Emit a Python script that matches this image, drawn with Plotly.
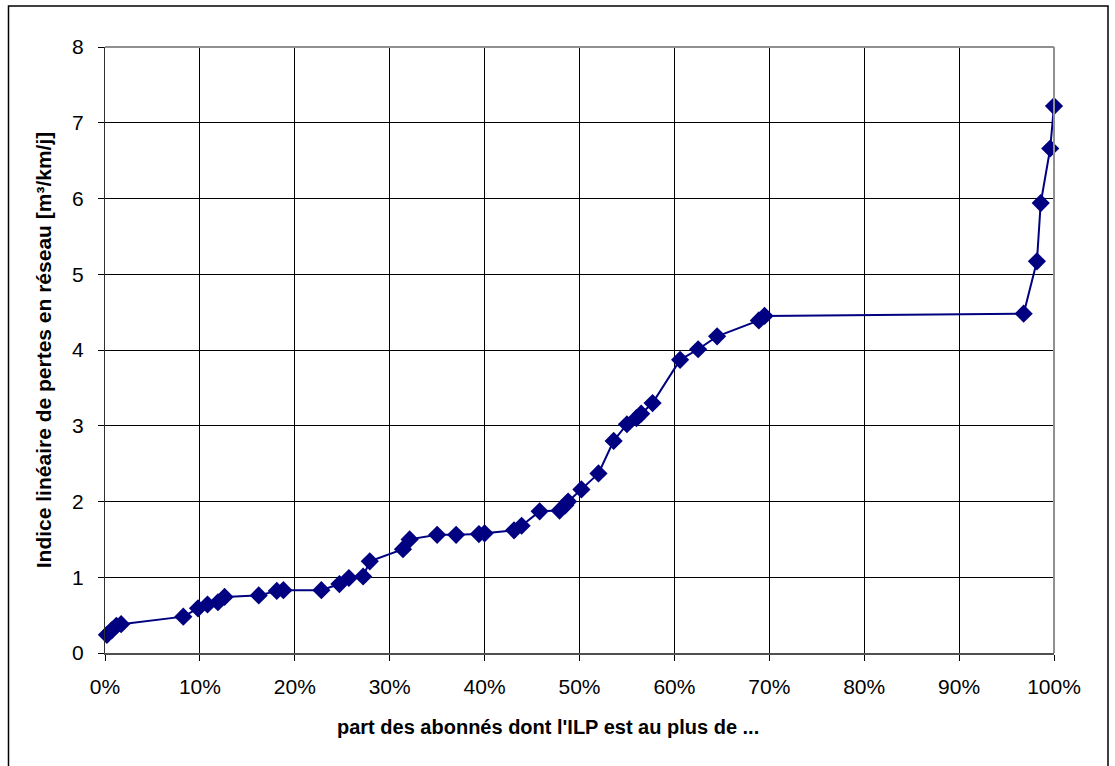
import plotly.graph_objects as go

# Share of subscribers (%) and linear loss index [m3/km/j]
part_pct = [0.2, 0.7, 1.2, 1.7, 8.25, 9.8, 10.8, 11.9, 12.6, 16.2, 18.1, 18.8,
            22.8, 24.7, 25.7, 27.2, 27.9, 31.4, 32.1, 35.0, 37.0, 39.4, 40.0,
            43.1, 43.9, 45.8, 47.9, 48.5, 48.8, 50.2, 52.0, 53.6, 55.0, 56.0,
            56.5, 57.7, 60.6, 62.5, 64.5, 68.9, 69.5, 96.8, 98.2, 98.6, 99.6, 100.0]
ilp = [0.24, 0.30, 0.36, 0.38, 0.48, 0.59, 0.64, 0.67, 0.74, 0.76, 0.82, 0.83,
       0.83, 0.91, 0.99, 1.01, 1.21, 1.37, 1.50, 1.56, 1.56, 1.57, 1.58,
       1.62, 1.68, 1.87, 1.88, 1.95, 2.00, 2.16, 2.37, 2.80, 3.02, 3.10,
       3.16, 3.30, 3.87, 4.01, 4.18, 4.39, 4.45, 4.48, 5.17, 5.94, 6.66, 7.22]

x_ticks = [0, 10, 20, 30, 40, 50, 60, 70, 80, 90, 100]
x_ticklabels = [f"{v}%" for v in x_ticks]
y_ticks = [0, 1, 2, 3, 4, 5, 6, 7, 8]

x_title = "part des abonnés dont l'ILP est au plus de ..."
y_title = "Indice linéaire de pertes en réseau [m³/km/j]"

W, H = 1115, 766
L, R, T, B = 105, 1054, 47, 653

fig = go.Figure()
fig.add_trace(go.Scatter(
    x=part_pct, y=ilp, mode="lines+markers",
    line=dict(color="#000080", width=2),
    marker=dict(symbol="diamond", size=14, color="#000080"),
    showlegend=False, cliponaxis=False,
))

font = "Liberation Sans, Arial, sans-serif"
fig.update_layout(
    width=W, height=H,
    margin=dict(l=L, r=W - R, t=T, b=H - B, pad=0),
    paper_bgcolor="white", plot_bgcolor="white",
    font=dict(family=font, color="black", size=21),
    xaxis=dict(
        range=[0, 100], tickvals=x_ticks, ticktext=x_ticklabels,
        showgrid=True, gridcolor="black", gridwidth=1,
        ticks="outside", ticklen=6, tickcolor="black", tickwidth=1,
        showline=True, linecolor="#505050", linewidth=2,
        zeroline=False, ticklabelstandoff=8,
        tickfont=dict(size=21),
    ),
    yaxis=dict(
        range=[0, 8], tickvals=y_ticks,
        showgrid=True, gridcolor="black", gridwidth=1,
        ticks="outside", ticklen=6, tickcolor="black", tickwidth=1,
        showline=True, linecolor="#303030", linewidth=1,
        zeroline=False, ticklabelstandoff=10,
        tickfont=dict(size=21),
        title=dict(text="<b>" + y_title + "</b>", font=dict(size=21), standoff=14),
    ),
)

pw, ph = R - L, B - T
def px(xp): return (xp - L) / pw
def py(yp): return (B - yp) / ph

# x axis title (centred on the chart, as in the original)
fig.add_annotation(text="<b>" + x_title + "</b>", xref="paper", yref="paper",
                   x=px(548), y=py(727), xanchor="center", yanchor="middle",
                   showarrow=False, font=dict(size=20, family=font, color="black"))

# plot area border (gray) on top and right
fig.add_shape(type="line", xref="paper", yref="paper", x0=0, x1=1, y0=1, y1=1,
              line=dict(color="#909090", width=2), layer="above")
fig.add_shape(type="line", xref="paper", yref="paper", x0=1, x1=1, y0=0, y1=1,
              line=dict(color="#909090", width=2), layer="above")
# outer chart frame
fig.add_shape(type="rect", xref="paper", yref="paper",
              x0=px(8.5), x1=px(1108), y0=py(775), y1=py(6),
              line=dict(color="black", width=1.5), layer="below")

fig.write_html("out.html", config={"displayModeBar": False},
               post_script="document.body.style.margin='0';document.body.style.overflow='hidden';")
